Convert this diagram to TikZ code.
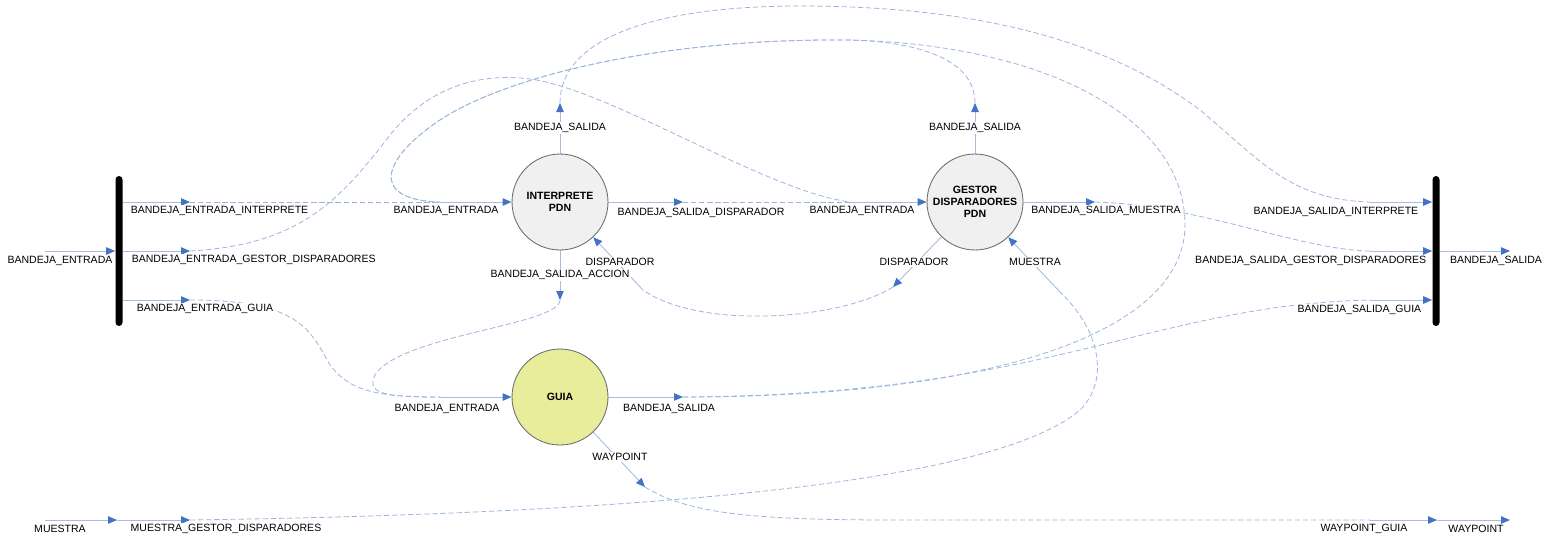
\documentclass[tikz,border=0pt]{standalone}
\usepackage{fontspec}
\setmainfont{Liberation Sans}
\usetikzlibrary{arrows.meta}
\pgfdeclarelayer{background layer}
\pgfsetlayers{background layer,main}
\definecolor{tipblue}{HTML}{4472C4}
\definecolor{linkblue}{HTML}{9AB4DC}
\definecolor{stubblue}{HTML}{A8BCE0}
\definecolor{bordergray}{HTML}{6E6E6E}
\definecolor{pdngray}{HTML}{F0F0F0}
\definecolor{guiayellow}{HTML}{E8ED9C}
\tikzstyle{pdn}=[circle,draw=bordergray,fill=pdngray,line width=0.5pt,minimum size=1.92cm,inner sep=0pt,align=center,font=\fontsize{6}{7}\selectfont\bfseries]
\tikzstyle{guia}=[pdn,fill=guiayellow]
\tikzstyle{bar}=[rectangle,fill=black,rounded corners=0.07cm,minimum width=0.14cm,minimum height=3cm,inner sep=0pt]
\tikzstyle{lbl}=[fill=white,inner sep=0.8pt,font=\fontsize{6}{7}\selectfont]
\tikzstyle{port}=[draw=stubblue,line width=0.5pt,-{Triangle[length=0.18cm,width=0.15cm,color=tipblue]}]
\tikzstyle{link}=[draw=linkblue,line width=0.45pt,dash pattern=on 3pt off 1.6pt]

\begin{document}
\begin{tikzpicture}[x=0.02cm,y=-0.02cm]
	\useasboundingbox (0,0) rectangle (1548,542);
	% bandejas de entrada y salida
	\node at (119,251) [bar] (lbar) {};
	\node at (1436,251) [bar] (rbar) {};
	% procesos
	\node at (560,202) [pdn] (interp) {INTERPRETE\\PDN};
	\node at (975,202) [pdn] (gestor) {GESTOR\\DISPARADORES\\PDN};
	\node at (560,397) [guia] (guia) {GUIA};
	% extremos de los puertos
	\coordinate (entrada) at (45,251);
	\coordinate (ei) at (190,202);
	\coordinate (eg) at (190,251);
	\coordinate (eu) at (190,300);
	\coordinate (si) at (1370,202);
	\coordinate (sg) at (1370,251);
	\coordinate (su) at (1370,300);
	\coordinate (salida) at (1510,251);
	\coordinate (ibe) at (440,202);
	\coordinate (ibs) at (560,103);
	\coordinate (ibsd) at (683,202);
	\coordinate (ibsa) at (560,300);
	\coordinate (idis) at (643,290);
	\coordinate (gbe) at (850,202);
	\coordinate (gbs) at (975,103);
	\coordinate (gbsm) at (1095,202);
	\coordinate (gdis) at (893,287);
	\coordinate (gmue) at (1060,292);
	\coordinate (ube) at (440,397);
	\coordinate (ubs) at (683,397);
	\coordinate (uway) at (645,487);
	\coordinate (muestra) at (45,520);
	\coordinate (mjoin) at (117,520);
	\coordinate (mgd) at (190,520);
	\coordinate (wg) at (1370,520);
	\coordinate (wjoin) at (1437,520);
	\coordinate (waypoint) at (1510,520);
	\coordinate (cima) at (850,40);
	% etiquetas
	\node at (60,261) [lbl] (l_entrada) {BANDEJA\_ENTRADA};
	\node at (129,211) [lbl,anchor=west] (l_ei) {BANDEJA\_ENTRADA\_INTERPRETE};
	\node at (130,260) [lbl,anchor=west] (l_eg) {BANDEJA\_ENTRADA\_GESTOR\_DISPARADORES};
	\node at (135,309) [lbl,anchor=west] (l_eu) {BANDEJA\_ENTRADA\_GUIA};
	\node at (446,211) [lbl] (l_ibe) {BANDEJA\_ENTRADA};
	\node at (560,128) [lbl] (l_ibs) {BANDEJA\_SALIDA};
	\node at (701,213) [lbl] (l_ibsd) {BANDEJA\_SALIDA\_DISPARADOR};
	\node at (560,275) [lbl] (l_ibsa) {BANDEJA\_SALIDA\_ACCION};
	\node at (620,262) [lbl] (l_idis) {DISPARADOR};
	\node at (862,211) [lbl] (l_gbe) {BANDEJA\_ENTRADA};
	\node at (975,128) [lbl] (l_gbs) {BANDEJA\_SALIDA};
	\node at (1106,211) [lbl] (l_gbsm) {BANDEJA\_SALIDA\_MUESTRA};
	\node at (914,262) [lbl] (l_gdis) {DISPARADOR};
	\node at (1035,262) [lbl] (l_gmue) {MUESTRA};
	\node at (447,409) [lbl] (l_ube) {BANDEJA\_ENTRADA};
	\node at (669,409) [lbl] (l_ubs) {BANDEJA\_SALIDA};
	\node at (620,457) [lbl] (l_uway) {WAYPOINT};
	\node at (1420,212) [lbl,anchor=east] (l_si) {BANDEJA\_SALIDA\_INTERPRETE};
	\node at (1428,261) [lbl,anchor=east] (l_sg) {BANDEJA\_SALIDA\_GESTOR\_DISPARADORES};
	\node at (1423,310) [lbl,anchor=east] (l_su) {BANDEJA\_SALIDA\_GUIA};
	\node at (1496,261) [lbl] (l_salida) {BANDEJA\_SALIDA};
	\node at (60,529) [lbl] (l_muestra) {MUESTRA};
	\node at (226,529) [lbl] (l_mgd) {MUESTRA\_GESTOR\_DISPARADORES};
	\node at (1364,529) [lbl] (l_wg) {WAYPOINT\_GUIA};
	\node at (1476,529) [lbl] (l_waypoint) {WAYPOINT};
	\begin{pgfonlayer}{background layer}
		% puertos
		\draw[port] (entrada) -- (lbar);
		\draw[port] (lbar.east |- ei) -- (ei);
		\draw[port] (lbar.east |- eg) -- (eg);
		\draw[port] (lbar.east |- eu) -- (eu);
		\draw[port] (si) -- (rbar.west |- si);
		\draw[port] (sg) -- (rbar.west |- sg);
		\draw[port] (su) -- (rbar.west |- su);
		\draw[port] (rbar) -- (salida);
		\draw[port] (ibe) -- (interp);
		\draw[port] (interp) -- (ibs);
		\draw[port] (interp) -- (ibsd);
		\draw[port] (interp) -- (ibsa);
		\draw[port] (idis) -- (interp);
		\draw[port] (gbe) -- (gestor);
		\draw[port] (gestor) -- (gbs);
		\draw[port] (gestor) -- (gbsm);
		\draw[port] (gestor) -- (gdis);
		\draw[port] (gmue) -- (gestor);
		\draw[port] (ube) -- (guia);
		\draw[port] (guia) -- (ubs);
		\draw[port] (guia) -- (uway);
		\draw[port] (muestra) -- (mjoin);
		\draw[port] (mjoin) -- (mgd);
		\draw[port] (wg) -- (wjoin);
		\draw[port] (wjoin) -- (waypoint);
		% enlaces
		\draw[link] (ei) -- (ibe);
		\draw[link] (ibsd) -- (gbe);
		\draw[link] (eg) .. controls (300,245) and (340,200) .. (390,135) .. controls (430,85) and (480,75) .. (520,78) .. controls (600,82) and (760,190) .. (gbe);
		\draw[link] (ibs) .. controls (560,40) and (650,6) .. (800,6) .. controls (1000,6) and (1120,50) .. (1200,110) .. controls (1260,160) and (1290,200) .. (si);
		\draw[link] (gbsm) .. controls (1200,205) and (1300,250) .. (sg);
		\draw[link] (ubs) .. controls (1050,395) and (1150,305) .. (su);
		\draw[link] (ubs) .. controls (1000,397) and (1185,330) .. (1185,225) .. controls (1185,120) and (1050,45) .. (cima) .. controls (650,38) and (500,80) .. (440,120) .. controls (380,160) and (370,200) .. (ibe);
		\draw[link] (gbs) .. controls (975,60) and (920,42) .. (cima) .. controls (650,38) and (500,80) .. (440,120) .. controls (380,160) and (370,200) .. (ibe);
		\draw[link] (gdis) .. controls (840,320) and (700,330) .. (idis);
		\draw[link] (ibsa) .. controls (560,325) and (400,335) .. (375,375) .. controls (365,395) and (390,397) .. (ube);
		\draw[link] (eu) .. controls (300,300) and (310,330) .. (330,365) .. controls (350,392) and (380,397) .. (ube);
		\draw[link] (mgd) .. controls (750,512) and (1010,470) .. (1080,410) .. controls (1110,380) and (1100,330) .. (gmue);
		\draw[link] (uway) .. controls (690,515) and (760,520) .. (900,520) -- (wg);
	\end{pgfonlayer}
\end{tikzpicture}
\end{document}
